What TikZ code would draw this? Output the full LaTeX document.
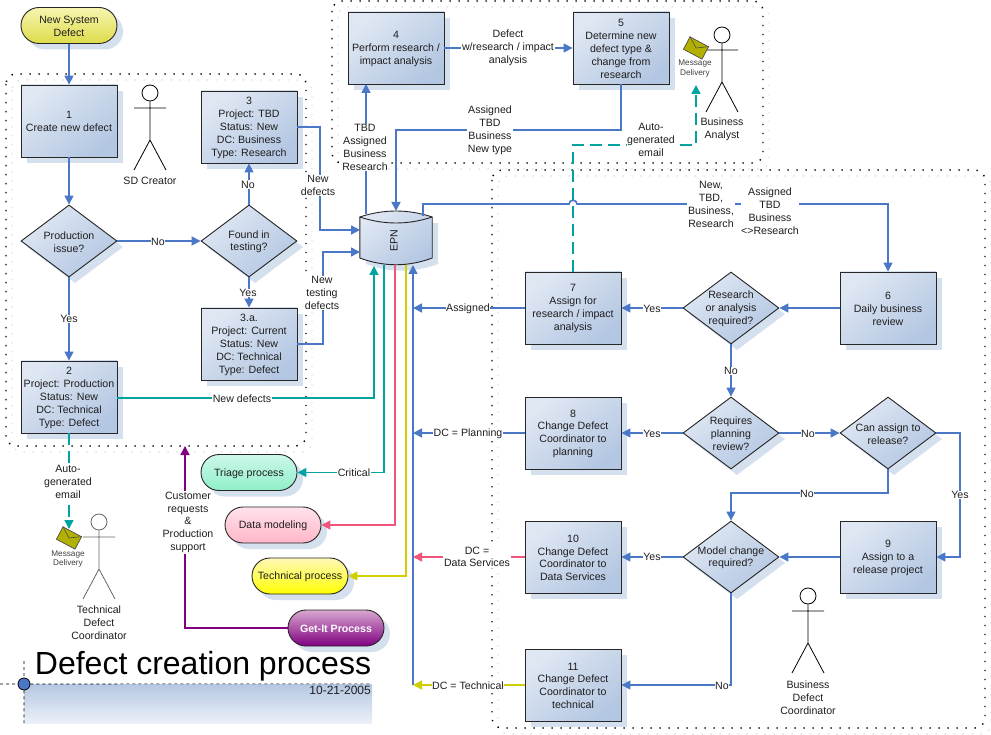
\documentclass[tikz,border=0pt]{standalone}
\usepackage{fontspec}
\setmainfont{Liberation Sans}
\usetikzlibrary{arrows.meta,shapes.geometric,shapes.misc,calc}
\definecolor{shadowc}{HTML}{D5E0EF}
\definecolor{bl}{HTML}{DFE7F3}
\definecolor{bd}{HTML}{B4C7E2}
\definecolor{fblue}{HTML}{4A78C6}
\definecolor{fteal}{HTML}{00A3A0}
\definecolor{fred}{HTML}{F2557A}
\definecolor{fyel}{HTML}{D2CF00}
\definecolor{fpur}{HTML}{800080}
\definecolor{txt}{HTML}{1E1E1E}
\definecolor{F7}{HTML}{F7F5B0}
\definecolor{D9}{HTML}{DDDC4A}
\definecolor{T1}{HTML}{CDF7EA}
\definecolor{T2}{HTML}{8FF0C8}
\definecolor{P1}{HTML}{FFE2EA}
\definecolor{P2}{HTML}{FFB6C8}
\definecolor{Y1}{HTML}{FFF8B8}
\definecolor{G1}{HTML}{D8A8D0}
\newcommand{\stick}[4][black]{%
  \node[circle,draw=#1,line width=.8pt,minimum size=16pt,inner sep=0pt] (#4) at (#2,#3) {};
  \draw[#1,line width=.8pt] (#4.south) -- (#2,#3+47) (#2-16,#3+15) -- (#2+16,#3+15)
     (#2-16,#3+77) -- (#2,#3+47) -- (#2+16,#3+77);
}
\tikzset{
  base/.style={font=\fontsize{10.6}{12.9}\selectfont,text=txt,align=center},
  boxn/.style={draw=black!85,line width=.9pt,rectangle,minimum width=96pt,minimum height=72pt,inner sep=0pt,
    top color=bl,bottom color=bd,shading angle=40},
  dia/.style={draw=black!85,line width=.9pt,diamond,aspect=1.333,minimum width=96pt,minimum height=72pt,inner sep=0pt,
    top color=bl,bottom color=bd,shading angle=40},
  dl/.style={base,inner sep=0pt,yshift=-.8pt},
  term/.style={draw=black!85,line width=.9pt,rounded rectangle,minimum width=96pt,minimum height=36pt,inner sep=0pt},
  flow/.style={line width=1.6pt,draw=#1,-{Triangle[length=9pt,width=9pt,fill=#1]}},
  flow/.default=fblue,
  lab/.style={base,fill=white,inner sep=.6pt,yshift=-.8pt},
  tag/.style={base,inner sep=0pt,yshift=-.8pt},
  frm/.style={line width=1.4pt,black,rounded corners=10pt,dash pattern=on 1.4pt off 7.6pt},
  frs/.style={line width=1.4pt,draw=shadowc,rounded corners=10pt,dash pattern=on 1.4pt off 7.6pt},
  envl/.style={draw=black!70,line width=.7pt,fill=fyel!85!black,minimum width=21pt,minimum height=14pt,inner sep=0pt,rotate=-28},
  small/.style={font=\fontsize{8.2}{9.7}\selectfont,text=black!75,align=center,inner sep=0pt},
}
\begin{document}
\begin{tikzpicture}[x=1pt,y=-1pt]
\useasboundingbox (0,0) rectangle (991,735);
% frames
\draw[frs] (12,80) rectangle (312,452);
\draw[frs] (338,7) rectangle (769,169);
\draw[frs] (498,176) rectangle (991,734);
\draw[frm] (6,74) rectangle (306,446);
\draw[frm] (332,1) rectangle (763,163);
\draw[frm] (492,170) rectangle (985,728);
% title block
\node[rectangle,minimum width=348pt,minimum height=39pt,inner sep=0pt,top color=bd,bottom color=bl!60] (band) at (198,703.5) {};
\node[font=\fontsize{32}{36}\selectfont,text=black,inner sep=0pt] (title) at (203,666) {Defect creation process};
\node[font=\fontsize{12}{13}\selectfont,text=txt,anchor=east,inner sep=0pt] (date) at (371,690) {10-21-2005};
\node[circle,draw=black,line width=.8pt,fill=fblue,minimum size=12pt,inner sep=0pt] (dot) at (24,684) {};
\coordinate (gL) at (0,684);
\coordinate (gT) at (24,661);
\coordinate (gB) at (24,723);
\draw[black,line width=.6pt,dashed] (gL) -- (dot) (dot) -- (band.north east) (gT) -- (dot) (dot) -- (gB);
% shadows
\foreach \px/\py in {69/121,69/397,249/127,249/344,396/48,621/48,888/308,573/308,573/433,888/557,573/557,573/685}
  \fill[shadowc] (\px-42,\py-30) rectangle (\px+54,\py+42);
\foreach \px/\py in {69/241,249/241,731/308,731/433,888/433,731/557}
  \fill[shadowc] (\px-42,\py+6) -- (\px+6,\py-30) -- (\px+54,\py+6) -- (\px+6,\py+42) -- cycle;
\foreach \px/\py in {69/25.5,249/472.5,273/525,300/576,336/628}
  \fill[shadowc,rounded corners=17.9pt] (\px-42,\py-12) rectangle (\px+54,\py+24);
% process nodes
\node[term,top color=F7,bottom color=D9,label={[dl]center:New System\\Defect}] (start) at (69,25.5) {};
\node[boxn,label={[dl]center:1\\Create new defect}] (b1) at (69,121) {};
\node[dia,label={[dl]center:Production\\issue?}] (d1) at (69,241) {};
\node[boxn,label={[dl]center:2\\Project: Production\\Status: New\\DC: Technical\\Type: Defect}] (b2) at (69,397) {};
\node[boxn,label={[dl]center:3\\Project: TBD\\Status: New\\DC: Business\\Type: Research}] (b3) at (249,127) {};
\node[dia,label={[dl]center:Found in\\testing?}] (d2) at (249,241) {};
\node[boxn,label={[dl]center:3.a.\\Project: Current\\Status: New\\DC: Technical\\Type: Defect}] (b3a) at (249,344) {};
\node[boxn,label={[dl]center:4\\Perform research /\\impact analysis}] (b4) at (396,48) {};
\node[boxn,label={[dl]center:5\\Determine new\\defect type \&\\change from\\research}] (b5) at (621,48) {};
\node[boxn,label={[dl]center:6\\Daily business\\review}] (b6) at (888,308) {};
\node[boxn,label={[dl]center:7\\Assign for\\research / impact\\analysis}] (b7) at (573,308) {};
\node[boxn,label={[dl]center:8\\Change Defect\\Coordinator to\\planning}] (b8) at (573,433) {};
\node[boxn,label={[dl]center:9\\Assign to a\\release project}] (b9) at (888,557) {};
\node[boxn,label={[dl]center:10\\Change Defect\\Coordinator to\\Data Services}] (b10) at (573,557) {};
\node[boxn,label={[dl]center:11\\Change Defect\\Coordinator to\\technical}] (b11) at (573,685) {};
\node[dia,label={[dl]center:Research\\or analysis\\required?}] (d3) at (731,308) {};
\node[dia,label={[dl]center:Requires\\planning\\review?}] (d4) at (731,433) {};
\node[dia,label={[dl]center:Can assign to\\release?}] (d5) at (888,433) {};
\node[dia,label={[dl]center:Model change\\required?}] (d6) at (731,557) {};
\node[term,top color=T1,bottom color=T2,label={[dl]center:Triage process}] (triage) at (249,472.5) {};
\node[term,top color=P1,bottom color=P2,label={[dl]center:Data modeling}] (datam) at (273,525) {};
\node[term,top color=Y1,bottom color=yellow,label={[dl]center:Technical process}] (techp) at (300,576) {};
\node[term,top color=G1,bottom color=fpur,label={[dl,text=white,font=\fontsize{10.6}{12.9}\selectfont\bfseries]center:Get-It Process}] (getit) at (336,628) {};
% EPN
\node[inner sep=0pt,minimum width=72pt,minimum height=54pt] (epn) at (396,238) {};
\fill[shadowc] (366,223) -- (438,223) -- (438,264) .. controls (414,273) and (390,273) .. (366,264) -- cycle;
\shade[top color=bl,bottom color=bd,shading angle=40,draw=black!85,line width=.9pt]
  (epn.west |- 0,217) .. controls (384,209) and (408,209) .. (epn.east |- 0,217)
  -- (epn.east |- 0,258) .. controls (408,267) and (384,267) .. (epn.west |- 0,258) -- cycle;
\draw[black!85,line width=.9pt] (epn.west |- 0,217) .. controls (384,225) and (408,225) .. (epn.east |- 0,217);
\node[base,rotate=90,inner sep=0pt] (epntxt) at (394,241) {EPN};
% connector ends
\coordinate (eTopA) at (366,214);
\coordinate (b4in) at (366,84);
\coordinate (eTopB) at (396,211);
\coordinate (eOut) at (423,216);
\coordinate (j1) at (569,204);
\coordinate (j2) at (577,204);
\coordinate (eIn1) at (360,230);
\coordinate (eIn2) at (360,252);
\coordinate (eIn3) at (374,266);
\coordinate (eT) at (384,265);
\coordinate (eR) at (395,265);
\coordinate (eY) at (406,265);
\coordinate (eB) at (413,265);
\coordinate (v7) at (413,308);
\coordinate (v8) at (413,433);
\coordinate (v10) at (413,557);
\coordinate (v11) at (413,685);
\coordinate (d7) at (573,145);
\coordinate (frameHit) at (185,446);
% actors and envelopes
\stick{150}{93}{a1}
\stick{722}{35}{a2}
\stick{808}{596}{a3}
\stick[black!60]{99}{522}{a4}
\node[envl] (env1) at (696,48) {};
\draw[black!70,line width=.6pt] (env1.north west) -- (env1.center) -- (env1.north east);
\node[envl] (env2) at (69,538) {};
\draw[black!70,line width=.6pt] (env2.north west) -- (env2.center) -- (env2.north east);
\coordinate (m1) at (696,85);
\coordinate (m2) at (69,529);
% blue connectors
\draw[flow] (start) -- (b1);
\draw[flow] (b1) -- (d1);
\draw[flow] (d1) -- (b2);
\draw[flow] (d1) -- (d2);
\draw[flow] (d2) -- (b3);
\draw[flow] (d2) -- (b3a);
\draw[flow] (b3.east) -- (320,127) |- (eIn1);
\draw[flow] (b3a.east) -- (323,344) |- (eIn2);
\draw[flow] (eTopA) -- (b4in);
\draw[flow] (b4) -- (b5);
\draw[flow] (b5.south) |- (396,130) -- (eTopB);
\draw[flow] (eOut) |- (j1) .. controls (569,199) and (577,199) .. (j2) -| (b6.north);
\draw[flow] (b6) -- (d3);
\draw[flow] (d3) -- (b7);
\draw[flow] (d3) -- (d4);
\draw[flow] (d4) -- (b8);
\draw[flow] (d4) -- (d5);
\draw[flow] (d5.east) -- (960,433) |- (b9.east);
\draw[flow] (d5.south) |- (731,493) -- (d6.north);
\draw[flow] (b9) -- (d6);
\draw[flow] (d6) -- (b10);
\draw[flow] (d6.south) |- (b11.east);
\draw[flow] (v11) -- (eB);
\draw[flow] (b7) -- (v7);
\draw[flow] (b8) -- (v8);
% coloured connectors
\draw[flow=fred] (b10.west) -- (v10);
\draw[flow=fyel] (b11.west) -- (v11);
\draw[flow=fteal] (b2.east |- 0,398) -| (eIn3);
\draw[flow=fteal] (eT) |- (triage.east);
\draw[flow=fred] (eR) |- (datam.east);
\draw[flow=fyel] (eY) |- (techp.east);
\draw[flow=fpur] (getit.west) -| (frameHit);
\draw[flow=fteal,dash pattern=on 12pt off 6pt] (b7.north) -- (d7) -| (m1);
\draw[flow=fteal,dash pattern=on 12pt off 6pt] (b2.south) -- (m2);
% actor and message labels
\node[tag] (la1) at (150,180) {SD Creator};
\node[tag] (la2) at (722,128.5) {Business\\Analyst};
\node[tag] (la3) at (808,697) {Business\\Defect\\Coordinator};
\node[tag] (la4) at (99,622) {Technical\\Defect\\Coordinator};
\node[small] (mm1) at (695,68.5) {Message\\Delivery};
\node[small] (mm2) at (68,559) {Message\\Delivery};
% connector labels
\node[lab] (l1) at (69,318) {Yes};
\node[lab] (l2) at (158,241) {No};
\node[lab] (l3) at (248,184) {No};
\node[lab] (l4) at (248,292) {Yes};
\node[lab] (l5) at (318,184.5) {New\\defects};
\node[lab] (l6) at (322,292.5) {New\\testing\\defects};
\node[lab] (l7) at (242,398) {New defects};
\node[lab] (l8) at (365,146.5) {TBD\\Assigned\\Business\\Research};
\node[lab] (l9) at (490,129.5) {Assigned\\TBD\\Business\\New type};
\node[lab] (l10) at (508,47) {Defect\\w/research / impact\\analysis};
\node[lab] (l11) at (651,139.5) {Auto-\\generated\\email};
\node[lab] (l12) at (711,203.5) {New,\\TBD,\\Business,\\Research};
\node[lab] (l13) at (770,210.5) {Assigned\\TBD\\Business\\<>Research};
\node[lab] (l14) at (652,308) {Yes};
\node[lab] (l15) at (731,370) {No};
\node[lab] (l16) at (652,433) {Yes};
\node[lab] (l17) at (808,433) {No};
\node[lab] (l18) at (960,494) {Yes};
\node[lab] (l19) at (807,493) {No};
\node[lab] (l20) at (652,556) {Yes};
\node[lab] (l21) at (722,685) {No};
\node[lab] (l22) at (468,308) {Assigned};
\node[lab] (l23) at (468,433) {DC = Planning};
\node[lab] (l24) at (477,556) {DC =\\Data Services};
\node[lab] (l25) at (468,685) {DC = Technical};
\node[lab] (l26) at (354,472) {Critical};
\node[lab] (l27) at (188,521.5) {Customer\\requests\\\&\\Production\\support};
\node[lab] (l28) at (68,481) {Auto-\\generated\\email};
\end{tikzpicture}
\end{document}
